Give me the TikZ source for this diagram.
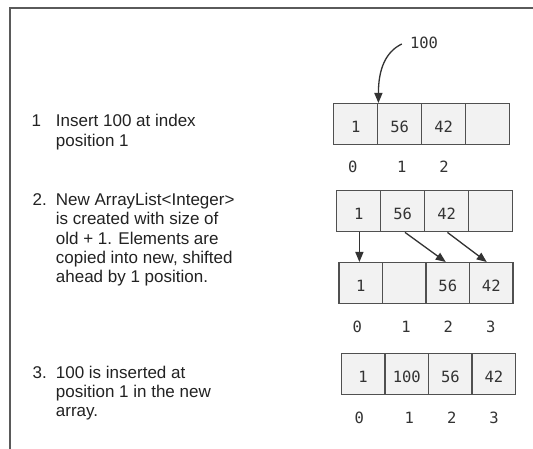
\documentclass[tikz,border=0pt]{standalone}
\usepackage{fontspec}
\setmainfont{Liberation Sans}
\newfontfamily\codefont{DejaVu Sans Mono}
\usetikzlibrary{arrows.meta,calc}
\definecolor{ink}{HTML}{222222}
\definecolor{codeink}{HTML}{333333}
\definecolor{cellfill}{HTML}{F2F2F2}
\definecolor{cellline}{HTML}{505050}
\definecolor{framecol}{HTML}{5A5A5A}
\begin{document}
\begin{tikzpicture}[x=1pt,y=-1pt,
  cell/.style={draw=cellline, fill=cellfill, line width=1.4pt,
    minimum width=44pt, minimum height=41pt, inner sep=0pt,
    text height=16pt, text depth=0pt, anchor=north west,
    font=\codefont\fontsize{15.5}{18}\selectfont, text=codeink},
  narrow/.style={minimum width=43.5pt},
  idx/.style={inner sep=0pt, text height=11.3pt, text depth=0pt,
    font=\codefont\fontsize{15.5}{18}\selectfont, text=codeink},
  steptext/.style={inner sep=0pt, anchor=base west,
    font=\fontsize{17}{19.3}\selectfont, text=ink},
  flow/.style={-{Triangle[length=10pt,width=8pt]}, line width=1.3pt, draw=codeink},
  frameline/.style={draw=framecol, line width=1.6pt}]

% page and open frame
\useasboundingbox[fill=white] (0,0) rectangle (533,449);
\draw[frameline] (533,8.3) -- (9.7,8.3) -- (9.7,449);

% step descriptions
\node[steptext] (n1) at (31.5,127) {1};
\node[steptext] (s1a) at (55.7,127) {Insert 100 at index};
\node[steptext] (s1b) at (55.7,146.3) {position 1};

\node[steptext] (n2) at (32.5,205.5) {2.};
\node[steptext] (s2a) at (55.7,205.5) {New ArrayList<Integer>};
\node[steptext] (s2b) at (55.7,224.8) {is created with size of};
\node[steptext] (s2c) at (55.7,244.1) {old + 1. Elements are};
\node[steptext] (s2d) at (55.7,263.4) {copied into new, shifted};
\node[steptext] (s2e) at (55.7,282.7) {ahead by 1 position.};

\node[steptext] (n3) at (32.5,378) {3.};
\node[steptext] (s3a) at (55.7,378) {100 is inserted at};
\node[steptext] (s3b) at (55.7,397.3) {position 1 in the new};
\node[steptext] (s3c) at (55.7,416.6) {array.};

% original list
\node[cell] (a1-0) at (333,103) {1};
\node[cell] (a1-1) at (377,103) {56};
\node[cell] (a1-2) at (421,103) {42};
\node[cell] (a1-3) at (465,103) {};
\node[idx] (i1-0) at (352.7,167) {0};
\node[idx] (i1-1) at (401.7,167) {1};
\node[idx] (i1-2) at (444,167) {2};

% value to insert
\node[idx] (hundred) at (424,43) {100};
\draw[flow] ($(hundred.west)+(-8,1)$) .. controls +(-16.7,8) and +(0,-33) .. (a1-0.north east);

% old list copied into the larger list
\node[cell] (a2-0) at (336,190) {1};
\node[cell] (a2-1) at (380,190) {56};
\node[cell] (a2-2) at (424,190) {42};
\node[cell] (a2-3) at (468,190) {};

\node[cell,narrow] (a3-0) at (338.3,262) {1};
\node[cell,narrow] (a3-1) at (381.8,262) {};
\node[cell,narrow] (a3-2) at (425.3,262) {56};
\node[cell,narrow] (a3-3) at (468.8,262) {42};

\draw[flow] ([xshift=0.7pt]a2-0.south) -- ([xshift=0.7pt]a2-0.south |- a3-0.north);
\draw[flow] ([xshift=2.3pt]a2-1.south) -- ([xshift=-2pt]a3-2.north);
\draw[flow] ([xshift=0.7pt]a2-2.south) -- ([xshift=-4.5pt]a3-3.north);

\node[idx] (i3-0) at (357.3,326.7) {0};
\node[idx] (i3-1) at (406,326.7) {1};
\node[idx] (i3-2) at (448.3,326.7) {2};
\node[idx] (i3-3) at (490.7,326.7) {3};

% resulting list
\node[cell,narrow] (a4-0) at (340.7,353) {1};
\node[cell,narrow] (a4-1) at (384.3,353) {100};
\node[cell,narrow] (a4-2) at (427.9,353) {56};
\node[cell,narrow] (a4-3) at (471.5,353) {42};
\node[idx] (i4-0) at (359.3,418.3) {0};
\node[idx] (i4-1) at (409.3,418.3) {1};
\node[idx] (i4-2) at (451.7,418.3) {2};
\node[idx] (i4-3) at (494,418.3) {3};
\end{tikzpicture}
\end{document}
